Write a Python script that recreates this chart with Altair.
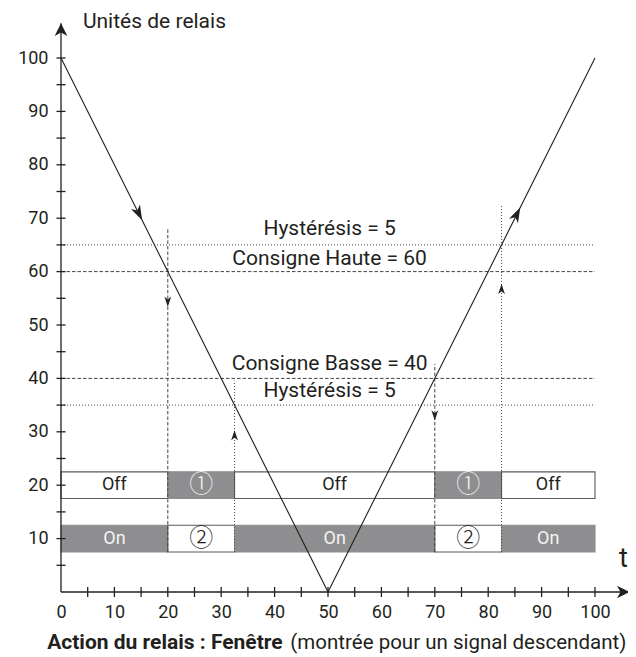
import math
import altair as alt
import pandas as pd

# ---------------- data ----------------
# signal (relay units vs time)
signal_t = [0, 50, 100]
signal_v = [100, 0, 100]

# direction arrows drawn on the signal
sig_arrow_t = [15.2, 86.0]
sig_arrow_v = [69.6, 72.0]
sig_arrow_dt = [50, 50]
sig_arrow_dv = [-100, 100]

# setpoint / hysteresis lines
hline_y = [65, 60, 40, 35]
hline_style = ["dotted", "dashed", "dashed", "dotted"]
hline_from = [0, 0, 0, 0]
hline_to = [100, 100, 100, 100]

setpoint_text = ["Hystérésis = 5", "Consigne Haute = 60", "Consigne Basse = 40", "Hystérésis = 5"]
setpoint_text_x = [50.3, 50.3, 50.3, 50.3]
setpoint_text_y = [67.9, 62.4, 42.7, 37.7]

# switching instants
vline_x = [20, 32.5, 70, 82.5]
vline_top = [68.1, 39.6, 42.7, 72.4]
vline_bottom = [7.5, 7.5, 7.5, 7.5]
vline_style = ["dashed", "dotted", "dashed", "dotted"]
vline_arrow_y = [53.4, 30.3, 32.1, 57.7]
vline_arrow_dir = [-1, 1, -1, 1]   # -1 = downward, 1 = upward

# relay state bars
seg_start = [0, 20, 32.5, 70, 82.5]
seg_end = [20, 32.5, 70, 82.5, 100]
off_labels = ["Off", "①", "Off", "①", "Off"]
off_shade = ["light", "dark", "light", "dark", "light"]
on_labels = ["On", "②", "On", "②", "On"]
on_shade = ["dark", "light", "dark", "light", "dark"]
off_row = [17.5, 22.5]
on_row = [7.5, 12.5]

# axes
x_labels = [0, 10, 20, 30, 40, 50, 60, 70, 80, 90, 100]
y_labels = [10, 20, 30, 40, 50, 60, 70, 80, 90, 100]
minor_ticks = [5, 10, 15, 20, 25, 30, 35, 40, 45, 50, 55, 60, 65, 70, 75, 80, 85, 90, 95, 100]
axis_end = 106.5

title_text = "Unités de relais"
caption_bold = "Action du relais : Fenêtre"
caption_rest = "(montrée pour un signal descendant)"

# ---------------- helpers ----------------
FONT = "Roboto, 'DejaVu Sans', sans-serif"
CIRCLE_FONT = "'Noto Sans CJK JP', 'DejaVu Sans', sans-serif"
INK = "#231f20"
GRAY = "#8e8e90"

xs = alt.Scale(domain=[0, 100], nice=False, zero=False)
ys = alt.Scale(domain=[0, 100], nice=False, zero=False)
xaxis = alt.Axis(values=x_labels, title=None, grid=False, domain=False, ticks=False, tickSize=0,
                 labelFont=FONT, labelFontSize=18, labelColor=INK, labelPadding=11, labelFlush=False)
yaxis = alt.Axis(values=y_labels, title=None, grid=False, domain=False, ticks=False, tickSize=0,
                 labelFont=FONT, labelFontSize=18, labelColor=INK, labelPadding=13, labelFlush=False)


def X(f):
    return alt.X(f, type="quantitative", scale=xs, axis=xaxis)


def Y(f):
    return alt.Y(f, type="quantitative", scale=ys, axis=yaxis)


dash_scale = alt.Scale(domain=["dashed", "dotted"], range=[[3.5, 2], [1, 2]])
text_color = alt.Color("shade:N", scale=alt.Scale(domain=["dark", "light"], range=["#f4f4f4", INK]), legend=None)

ARROW = "M0,0 L0.6,1.8 L0,1.3 L-0.6,1.8 Z"
AXIS_ARROW = "M0,0 L0.65,1.3 L0,0.95 L-0.65,1.3 Z"

# ---------------- tables ----------------
bars = pd.DataFrame({
    "x0": seg_start * 2,
    "x1": seg_end * 2,
    "y0": [off_row[0]] * 5 + [on_row[0]] * 5,
    "y1": [off_row[1]] * 5 + [on_row[1]] * 5,
    "label": off_labels + on_labels,
    "shade": off_shade + on_shade,
})
bars["xm"] = (bars["x0"] + bars["x1"]) / 2
bars["ym"] = (bars["y0"] + bars["y1"]) / 2
bars["circled"] = [l in ("①", "②") for l in bars["label"]]

sig = pd.DataFrame({"t": signal_t, "v": signal_v})
sig_arrows = pd.DataFrame({
    "t": sig_arrow_t, "v": sig_arrow_v,
    "ang": [math.degrees(math.atan2(a, b)) % 360 for a, b in zip(sig_arrow_dt, sig_arrow_dv)],
})
hl = pd.DataFrame({"x0": hline_from, "x1": hline_to, "y": hline_y, "style": hline_style})
sp = pd.DataFrame({"x": setpoint_text_x, "y": setpoint_text_y, "text": setpoint_text})
vl = pd.DataFrame({"x": vline_x, "y0": vline_bottom, "y1": vline_top, "style": vline_style})
va = pd.DataFrame({"x": vline_x, "y": vline_arrow_y,
                   "ang": [0 if d > 0 else 180 for d in vline_arrow_dir]})
axes_lines = pd.DataFrame({"x0": [0, 0], "x1": [0, axis_end], "y0": [0, 0], "y1": [axis_end, 0]})
axes_arrows = pd.DataFrame({"x": [0, axis_end], "y": [axis_end, 0],
                            "ang": [math.degrees(math.atan2(0, 1)), math.degrees(math.atan2(1, 0))]})
yt = pd.DataFrame({"y": minor_ticks, "x0": [-0.85] * len(minor_ticks), "x1": [0.85] * len(minor_ticks)})
xt = pd.DataFrame({"x": minor_ticks, "y0": [-0.95] * len(minor_ticks), "y1": [0.95] * len(minor_ticks)})
texts = pd.DataFrame({"x": [4.1], "y": [106.8], "text": [title_text]})
tlab = pd.DataFrame({"x": [105.3], "y": [6.1], "text": ["t"]})
cap_b = pd.DataFrame({"x": [41.5], "y": [-9.5], "text": [caption_bold]})
cap_r = pd.DataFrame({"x": [42.95], "y": [-9.5], "text": [caption_rest]})

# ---------------- layers ----------------
bar_layer = alt.Chart(bars).mark_rect(strokeWidth=1.1).encode(
    x=X("x0"), x2="x1", y=Y("y0"), y2="y1",
    fill=alt.Fill("shade:N", scale=alt.Scale(domain=["dark", "light"], range=[GRAY, "#ffffff"]), legend=None),
    stroke=alt.Stroke("shade:N", scale=alt.Scale(domain=["dark", "light"], range=[GRAY, "#5a5a5a"]), legend=None),
)
word_text = alt.Chart(bars).transform_filter("!datum.circled").mark_text(
    font=FONT, fontSize=18, baseline="middle", align="center").encode(
    x=X("xm"), y=Y("ym"), text="label:N", color=text_color)
circ_text = alt.Chart(bars).transform_filter("datum.circled").mark_text(
    font=CIRCLE_FONT, fontSize=24, fontWeight=300, baseline="middle", align="center").encode(
    x=X("xm"), y=Y("ym"), text="label:N", color=text_color)
hl_layer = alt.Chart(hl).mark_rule(color="#444444", strokeWidth=1).encode(
    x=X("x0"), x2="x1", y=Y("y"),
    strokeDash=alt.StrokeDash("style:N", scale=dash_scale, legend=None),
)
vl_layer = alt.Chart(vl).mark_rule(color="#444444", strokeWidth=1).encode(
    x=X("x"), y=Y("y0"), y2="y1",
    strokeDash=alt.StrokeDash("style:N", scale=dash_scale, legend=None),
)
va_layer = alt.Chart(va).mark_point(shape=ARROW, filled=True, opacity=1, size=130, color=INK, strokeWidth=0).encode(
    x=X("x"), y=Y("y"), angle=alt.Angle("ang:Q", scale=None),
)
sig_layer = alt.Chart(sig).mark_line(color=INK, strokeWidth=1.1).encode(x=X("t"), y=Y("v"))
sig_arrow_layer = alt.Chart(sig_arrows).mark_point(shape=ARROW, filled=True, opacity=1, size=280, color=INK,
                                                   strokeWidth=0).encode(
    x=X("t"), y=Y("v"), angle=alt.Angle("ang:Q", scale=None),
)
sp_layer = alt.Chart(sp).mark_text(font=FONT, fontSize=21, color=INK, baseline="middle", align="center").encode(
    x=X("x"), y=Y("y"), text="text:N")
axis_line_layer = alt.Chart(axes_lines).mark_rule(color=INK, strokeWidth=1.3).encode(
    x=X("x0"), x2="x1", y=Y("y0"), y2="y1")
axis_arrow_layer = alt.Chart(axes_arrows).mark_point(shape=AXIS_ARROW, filled=True, opacity=1, size=380,
                                                     color=INK, strokeWidth=0).encode(
    x=X("x"), y=Y("y"), angle=alt.Angle("ang:Q", scale=None))
ytick_layer = alt.Chart(yt).mark_rule(color=INK, strokeWidth=1.3).encode(x=X("x0"), x2="x1", y=Y("y"))
xtick_layer = alt.Chart(xt).mark_rule(color=INK, strokeWidth=1.3).encode(x=X("x"), y=Y("y0"), y2="y1")
title_layer = alt.Chart(texts).mark_text(font=FONT, fontSize=21, color=INK, align="left", baseline="middle").encode(
    x=X("x"), y=Y("y"), text="text:N")
t_layer = alt.Chart(tlab).mark_text(font=FONT, fontSize=27, color=INK, align="center", baseline="middle").encode(
    x=X("x"), y=Y("y"), text="text:N")
capb_layer = alt.Chart(cap_b).mark_text(font=FONT, fontSize=21, fontWeight="bold", color=INK, align="right",
                                        baseline="middle").encode(x=X("x"), y=Y("y"), text="text:N")
capr_layer = alt.Chart(cap_r).mark_text(font=FONT, fontSize=20.5, color=INK, align="left",
                                        baseline="middle").encode(x=X("x"), y=Y("y"), text="text:N")

chart = alt.layer(
    bar_layer, word_text, circ_text, hl_layer, vl_layer, va_layer, sig_layer, sig_arrow_layer, sp_layer,
    axis_line_layer, axis_arrow_layer, ytick_layer, xtick_layer, title_layer, t_layer, capb_layer, capr_layer,
).properties(
    width=534, height=534,
    padding={"left": 53, "top": 50, "right": 33, "bottom": 63},
    autosize=alt.AutoSizeParams(type="none"),
    background="white",
).configure_view(stroke=None)

chart.save("out.html", embed_options={"renderer": "svg", "actions": False})
